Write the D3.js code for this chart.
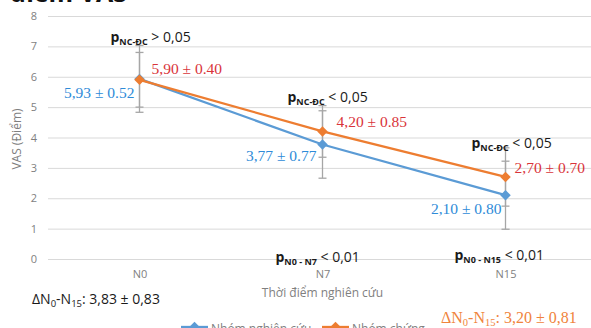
<!DOCTYPE html>
<html>
<head>
<meta charset="utf-8">
<script src="https://cdn.jsdelivr.net/npm/d3@7"></script>
<style>
  body { margin: 0; background: #fff; }
  svg { display: block; }
</style>
</head>
<body>
<svg></svg>
<script>
// time points on the x axis
const timepoints = ["N0", "N7", "N15"];
const yTicks = [0, 1, 2, 3, 4, 5, 6, 7, 8];

// study group (blue) and control group (orange)
const studyMean = [5.93, 3.77, 2.10];
const studyErr = [1.10, 1.11, 1.12];
const controlMean = [5.90, 4.20, 2.70];
const controlErr = [0.90, 0.85, 0.96];

const studyLabels = ["5,93 ± 0.52", "3,77 ± 0.77", "2,10 ± 0.80"];
const controlLabels = ["5,90 ± 0.40", "4,20 ± 0.85", "2,70 ± 0.70"];
const pGroupSign = ["> 0,05", "< 0,05", "< 0,05"];

const seriesNames = ["Nhóm nghiên cứu", "Nhóm chứng"];

const svgWidth = 591;
const svgHeight = 328;
const margin = { top: 16, right: -6, bottom: 69, left: 48 };

const blue = "#5b9bd5";
const orange = "#ed7d31";
const blueText = "#2e8bd8";
const redText = "#d9343a";
const sans = "'Open Sans', 'Liberation Sans', sans-serif";
const serif = "'Liberation Serif', 'Times New Roman', serif";

let svg = d3.select("svg")
    .attr("width", svgWidth)
    .attr("height", svgHeight);

// scales
let x = d3.scalePoint()
    .domain(timepoints)
    .range([margin.left, svgWidth - margin.right])
    .padding(0.5);

let y = d3.scaleLinear()
    .domain([0, 8])
    .range([svgHeight - margin.bottom, margin.top]);

// cut off title at the very top
svg.append("text")
    .attr("x", 10)
    .attr("y", 2)
    .attr("font-family", sans)
    .attr("font-weight", "bold")
    .attr("font-size", 25)
    .attr("fill", "#111")
    .text("điểm VAS");

// gridlines + y axis labels
let yAxis = svg.append("g")
    .attr("transform", "translate(" + margin.left + ",0)")
    .call(d3.axisLeft(y)
        .tickValues(yTicks)
        .tickSize(-(svgWidth - margin.left))
        .tickPadding(11)
        .tickFormat(d3.format("d")));
yAxis.select(".domain").remove();
yAxis.selectAll("line").attr("stroke", "#d9d9d9");
yAxis.selectAll("text")
    .attr("fill", "#7f7f7f")
    .attr("font-family", sans)
    .attr("font-size", 11);

// x axis labels
let xAxis = svg.append("g")
    .attr("transform", "translate(0," + y(0) + ")")
    .call(d3.axisBottom(x).tickSize(0).tickPadding(11));
xAxis.select(".domain").remove();
xAxis.selectAll("text")
    .attr("fill", "#7f7f7f")
    .attr("font-family", sans)
    .attr("font-size", 11);

// axis titles
svg.append("text")
    .attr("transform", "translate(21," + y(3.95) + ") rotate(-90)")
    .attr("text-anchor", "middle")
    .attr("fill", "#7f7f7f")
    .attr("font-family", sans)
    .attr("font-size", 12)
    .text("VAS (Điểm)");

svg.append("text")
    .attr("x", x("N7"))
    .attr("y", 297)
    .attr("text-anchor", "middle")
    .attr("fill", "#7f7f7f")
    .attr("font-family", sans)
    .attr("font-size", 12)
    .text("Thời điểm nghiên cứu");

// error bars (gray) for both groups
const errRows = timepoints.map((t, i) => ({ t: t, m: studyMean[i], e: studyErr[i] }))
    .concat(timepoints.map((t, i) => ({ t: t, m: controlMean[i], e: controlErr[i] })));

let err = svg.append("g").attr("stroke", "#a6a6a6").attr("stroke-width", 1.3);
err.selectAll(".stem")
    .data(errRows)
    .enter()
    .append("line")
    .attr("x1", d => x(d.t))
    .attr("x2", d => x(d.t))
    .attr("y1", d => y(d.m - d.e))
    .attr("y2", d => y(d.m + d.e));
err.selectAll(".cap")
    .data(errRows.flatMap(d => [{ t: d.t, v: d.m - d.e }, { t: d.t, v: d.m + d.e }]))
    .enter()
    .append("line")
    .attr("x1", d => x(d.t) - 4)
    .attr("x2", d => x(d.t) + 4)
    .attr("y1", d => y(d.v))
    .attr("y2", d => y(d.v));

// lines + diamond markers
const series = [
    { name: seriesNames[0], values: studyMean, color: blue },
    { name: seriesNames[1], values: controlMean, color: orange }
];

let line = d3.line()
    .x((d, i) => x(timepoints[i]))
    .y(d => y(d));

const diamond = d3.symbol().type(d3.symbolDiamond2).size(70);

series.forEach(s => {
    svg.append("path")
        .attr("d", line(s.values))
        .attr("fill", "none")
        .attr("stroke", s.color)
        .attr("stroke-width", 2.3);
    svg.selectAll(null)
        .data(s.values)
        .enter()
        .append("path")
        .attr("d", diamond)
        .attr("transform", (d, i) => "translate(" + x(timepoints[i]) + "," + y(d) + ")")
        .attr("fill", s.color);
});

// value labels (serif, like the original)
const studyOffset = [[-5, 19], [-6, 17], [-4, 19]];
const controlOffset = [[12, -6], [14, -4], [9, -4]];

svg.selectAll(".studyLab")
    .data(studyLabels)
    .enter()
    .append("text")
    .attr("x", (d, i) => x(timepoints[i]) + studyOffset[i][0])
    .attr("y", (d, i) => y(studyMean[i]) + studyOffset[i][1])
    .attr("text-anchor", "end")
    .attr("fill", blueText)
    .attr("font-family", serif)
    .attr("font-size", 15.5)
    .text(d => d);

svg.selectAll(".ctrlLab")
    .data(controlLabels)
    .enter()
    .append("text")
    .attr("x", (d, i) => x(timepoints[i]) + controlOffset[i][0])
    .attr("y", (d, i) => y(controlMean[i]) + controlOffset[i][1])
    .attr("fill", redText)
    .attr("font-family", serif)
    .attr("font-size", 15.5)
    .text(d => d);

// p-value annotations with subscript
function pLabel(px, py, sub, rest) {
    let t = svg.append("text")
        .attr("x", px)
        .attr("y", py)
        .attr("font-family", sans)
        .attr("font-size", 14)
        .attr("fill", "#1a1a1a");
    t.append("tspan").attr("font-weight", "bold").text("p");
    t.append("tspan").attr("font-weight", "bold").attr("font-size", 9).attr("dy", 3).text(sub);
    t.append("tspan").attr("dy", -3).text(" " + rest);
}

const pGroupX = [-29, -35, -34];
const pGroupY = [42, 102, 148];
timepoints.forEach((t, i) => {
    pLabel(x(t) + pGroupX[i], pGroupY[i], "NC-ĐC", pGroupSign[i]);
});
pLabel(x("N7") - 47, 262, "N0 - N7", "< 0,01");
pLabel(x("N15") - 51, 260, "N0 - N15", "< 0,01");

// delta annotations
let d1 = svg.append("text")
    .attr("x", 32).attr("y", 304)
    .attr("font-family", sans).attr("font-size", 14).attr("fill", "#1a1a1a");
d1.append("tspan").text("ΔN");
d1.append("tspan").attr("font-size", 9.5).attr("dy", 3).text("0");
d1.append("tspan").attr("dy", -3).text("-N");
d1.append("tspan").attr("font-size", 9.5).attr("dy", 3).text("15");
d1.append("tspan").attr("dy", -3).text(": 3,83 ± 0,83");

let d2 = svg.append("text")
    .attr("x", 441).attr("y", 323)
    .attr("font-family", serif).attr("font-size", 16).attr("fill", "#f0843c");
d2.append("tspan").text("ΔN");
d2.append("tspan").attr("font-size", 10.5).attr("dy", 3).text("0");
d2.append("tspan").attr("dy", -3).text("-N");
d2.append("tspan").attr("font-size", 10.5).attr("dy", 3).text("15");
d2.append("tspan").attr("dy", -3).text(":  3,20 ± 0,81");

// legend (cut off at the bottom edge)
const legendX = [181, 322];
let legend = svg.selectAll(".legend")
    .data(series)
    .enter()
    .append("g")
    .attr("transform", (d, i) => "translate(" + legendX[i] + ",327)");
legend.append("line")
    .attr("x1", 0).attr("x2", 27)
    .attr("stroke", d => d.color)
    .attr("stroke-width", 2.3);
legend.append("path")
    .attr("d", diamond)
    .attr("transform", "translate(13.5,0)")
    .attr("fill", d => d.color);
legend.append("text")
    .attr("x", 30)
    .attr("y", 6)
    .attr("fill", "#7f7f7f")
    .attr("font-family", sans)
    .attr("font-size", 12)
    .text(d => d.name);
</script>
</body>
</html>
